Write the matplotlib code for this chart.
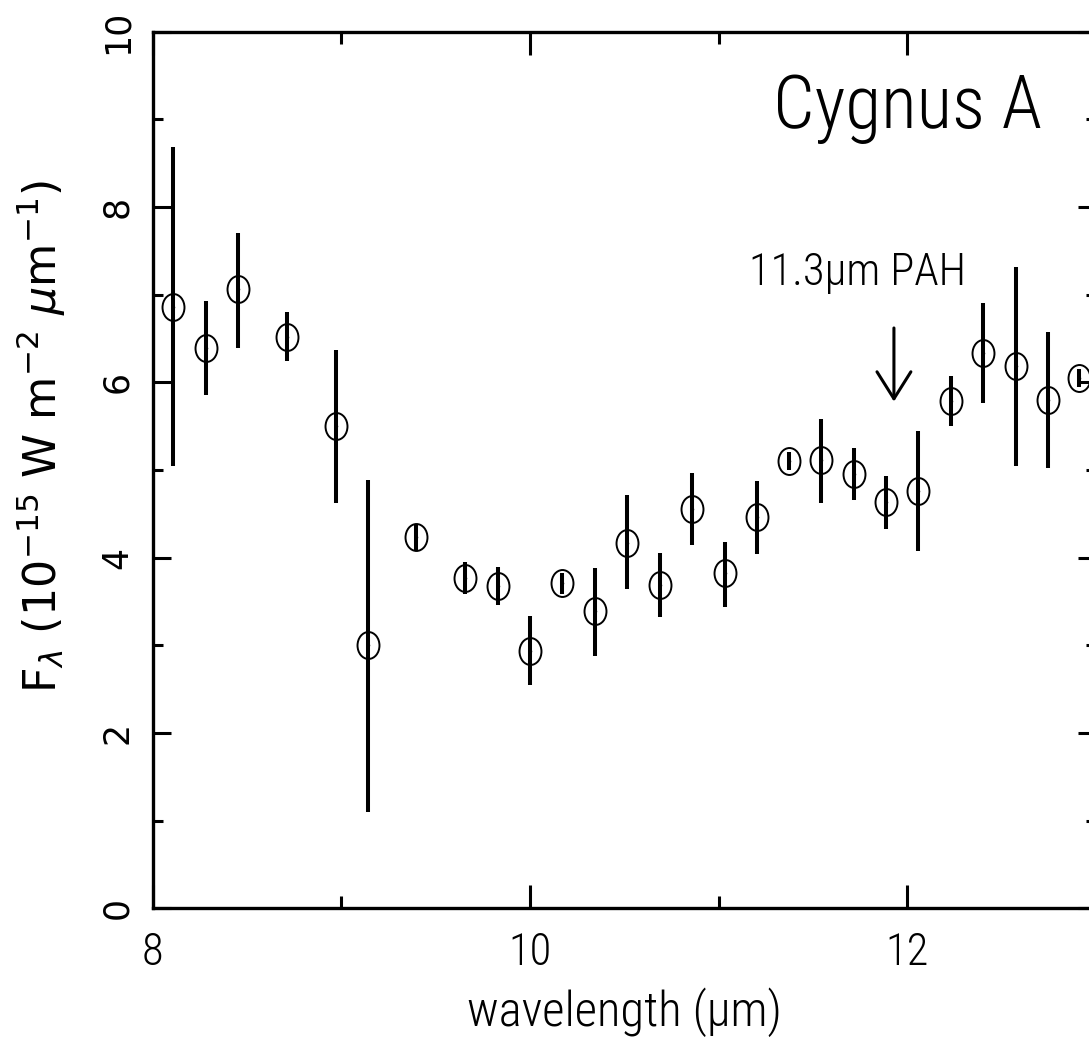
import matplotlib as mtl
mtl.use('Agg')
import matplotlib.pyplot as plt
from matplotlib import font_manager as fm
import numpy as np
from matplotlib.path import Path
from matplotlib.transforms import Affine2D

### DATA ###

wavelength = [8.109, 8.282, 8.453, 8.712, 8.970, 9.141, 9.397, 9.658, 9.829,
              10.000, 10.172, 10.344, 10.516, 10.688, 10.860, 11.032, 11.204,
              11.372, 11.545, 11.717, 11.889, 12.060, 12.231, 12.404, 12.575,
              12.748, 12.912]
flux = [6.86, 6.39, 7.06, 6.52, 5.50, 3.00, 4.23, 3.77, 3.68,
        2.94, 3.71, 3.39, 4.17, 3.69, 4.56, 3.82, 4.46,
        5.10, 5.11, 4.95, 4.64, 4.76, 5.79, 6.34, 6.19,
        5.80, 6.05]
flux_upper = [8.68, 6.93, 7.70, 6.80, 6.37, 4.89, 4.37, 3.95, 3.89,
              3.33, 3.82, 3.88, 4.71, 4.05, 4.97, 4.18, 4.87,
              5.20, 5.58, 5.25, 4.93, 5.44, 6.07, 6.91, 7.32,
              6.57, 6.15]
flux_lower = [5.05, 5.86, 6.39, 6.24, 4.62, 1.10, 4.08, 3.59, 3.46,
              2.55, 3.59, 2.88, 3.64, 3.32, 4.15, 3.44, 4.04,
              5.00, 4.62, 4.66, 4.33, 4.08, 5.50, 5.76, 5.05,
              5.02, 5.95]

pah_wave = 11.93          # 11.3 um PAH feature redshifted
xticks_major = [8, 10, 12]
yticks_major = [0, 2, 4, 6, 8, 10]

### FUNCTIONS ###

def pickFont(cands):
	""" first installed family out of cands """
	for fam in cands:
		try:
			fm.findfont(fm.FontProperties(family=fam), fallback_to_default=False)
			return fam
		except ValueError:
			pass
	return 'DejaVu Sans'

# horizontal text in the original looks squeezed, so a narrow face fits it better
narrow = [pickFont(['Liberation Sans Narrow', 'Roboto Condensed', 'Open Sans Condensed', 'Lato']), 'DejaVu Sans']
wide = ['DejaVu Sans']

### PLOT ###

fig = plt.figure(figsize=(10.89, 10.42), dpi=100)
ax = fig.add_axes([0.1402, 0.1283, 0.8660, 0.8413])

x = np.array(wavelength)
y = np.array(flux)
yerr = [y - np.array(flux_lower), np.array(flux_upper) - y]

ax.errorbar(x, y, yerr=yerr, fmt='none', ecolor='black', elinewidth=2.9, capsize=0)

# open markers are slightly squashed circles in the original
ellipse = Path.unit_circle().transformed(Affine2D().scale(0.815, 1.0))
ax.plot(x, y, ls='none', marker=ellipse, ms=19.4, mfc='none', mec='black', mew=1.4)
ax.plot(x, y, ls='none', marker='o', ms=1.5, color='black')

ax.set_xlim(8, 13)
ax.set_ylim(0, 10)
ax.set_xticks(xticks_major)
ax.set_xticks([9, 11, 13], minor=True)
ax.set_yticks(yticks_major)
ax.set_yticks([1, 3, 5, 7, 9], minor=True)

for s in ax.spines.values():
	s.set_linewidth(2.4)

ax.tick_params(which='both', direction='in', top=True, right=True, width=2.2)
ax.tick_params(axis='x', which='major', length=16.6, pad=17, labelsize=32,
               labelfontfamily=narrow)
ax.tick_params(axis='x', which='minor', length=8.6)
ax.tick_params(axis='y', which='major', length=13, pad=13, labelsize=25,
               labelrotation=90, labelfontfamily=wide)
ax.tick_params(axis='y', which='minor', length=7)
for lab in ax.get_yticklabels():
	lab.set_va('center')
for lab in ax.get_xticklabels():
	lab.set_fontweight('light')

ax.set_xlabel('wavelength (\u03bcm)', fontsize=35, family=narrow, weight='light', labelpad=9)
ax.set_ylabel(r'F$_\lambda$ (10$^{-15}$ W m$^{-2}$ $\mu$m$^{-1}$)',
              fontsize=32, family=wide)
ax.yaxis.set_label_coords(-0.09, 0.538)

ax.text(12.0, 8.90, 'Cygnus A', fontsize=53, family=narrow, weight='light',
        ha='center', va='baseline')
ax.text(11.737, 7.11, '11.3\u03bcm PAH', fontsize=32, family=narrow, weight='light',
        ha='center', va='baseline')
ax.annotate('', xy=(pah_wave, 5.78), xytext=(pah_wave, 6.62),
            arrowprops=dict(arrowstyle='->,head_length=0.97,head_width=0.61',
                            mutation_scale=20, lw=2.2, color='black',
                            shrinkA=0, shrinkB=0))

plt.savefig('out.png', dpi=100)
